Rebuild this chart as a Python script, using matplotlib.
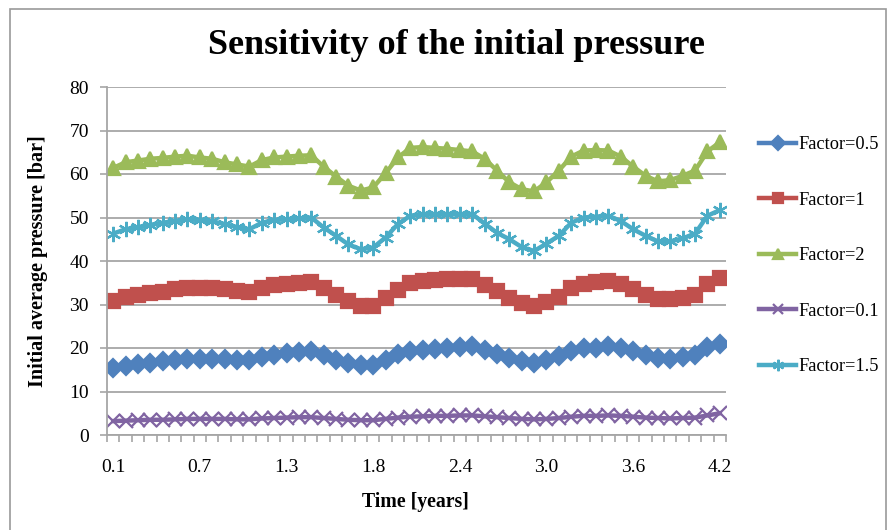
import matplotlib.pyplot as plt
from matplotlib.patches import Rectangle

# tiempo en meses (50 puntos), solo se rotula uno de cada 7
tick_pos = [0, 7, 14, 21, 28, 35, 42, 49]
tick_labels = ['0.1', '0.7', '1.3', '1.8', '2.4', '3.0', '3.6', '4.2']

# presion media inicial [bar] para cada factor
factor_05 = [15.4, 15.8, 16.4, 16.6, 16.9, 17.2, 17.4, 17.5, 17.5, 17.5,
             17.3, 17.2, 17.9, 18.5, 18.8, 19.1, 19.2, 18.3, 17.3, 16.6,
             16.0, 16.0, 17.2, 18.7, 19.3, 19.5, 19.8, 20.1, 20.2, 20.4,
             19.6, 18.7, 17.8, 17.0, 16.5, 17.2, 18.1, 19.3, 20.1, 20.1,
             20.4, 20.1, 19.3, 18.3, 17.8, 17.5, 17.9, 18.5, 20.2, 21.0]
factor_1 = [30.8, 31.7, 32.2, 32.6, 32.9, 33.5, 33.8, 33.8, 33.8, 33.5,
            33.2, 32.9, 33.9, 34.4, 34.7, 35.0, 35.1, 33.8, 32.2, 30.8,
            29.7, 29.7, 31.4, 33.3, 35.0, 35.3, 35.7, 35.8, 35.9, 35.9,
            34.5, 33.2, 31.6, 30.3, 29.7, 30.6, 31.8, 33.8, 34.8, 35.2,
            35.3, 34.8, 33.5, 32.1, 31.3, 31.2, 31.6, 32.1, 34.8, 36.1]
factor_2 = [61.4, 62.7, 63.1, 63.5, 63.7, 64.0, 64.2, 63.8, 63.5, 62.7,
            62.2, 61.7, 63.2, 63.8, 64.0, 64.2, 64.3, 61.7, 59.4, 57.3,
            56.2, 56.9, 60.2, 63.8, 66.0, 66.2, 66.0, 65.8, 65.5, 65.2,
            63.5, 60.8, 58.1, 56.5, 56.0, 58.1, 60.8, 64.0, 65.4, 65.5,
            65.4, 64.0, 61.7, 59.6, 58.3, 58.6, 59.6, 60.8, 65.2, 67.3]
factor_01 = [3.2, 3.3, 3.4, 3.5, 3.5, 3.6, 3.7, 3.7, 3.7, 3.7,
             3.6, 3.6, 3.8, 3.9, 4.0, 4.1, 4.1, 3.9, 3.7, 3.5,
             3.4, 3.4, 3.7, 4.0, 4.2, 4.3, 4.4, 4.4, 4.5, 4.5,
             4.3, 4.1, 3.9, 3.7, 3.6, 3.7, 3.9, 4.2, 4.4, 4.4,
             4.5, 4.4, 4.2, 4.0, 3.9, 3.8, 3.9, 4.0, 4.5, 5.0]
factor_15 = [46.3, 47.3, 47.8, 48.3, 48.8, 49.2, 49.6, 49.4, 49.1, 48.5,
             47.8, 47.3, 48.8, 49.4, 49.6, 49.8, 50.0, 47.7, 45.8, 43.8,
             42.7, 43.1, 45.4, 48.5, 50.4, 50.8, 50.8, 50.8, 50.8, 50.8,
             48.6, 46.5, 45.0, 43.2, 42.3, 44.0, 45.8, 48.8, 50.0, 50.2,
             50.4, 49.2, 47.3, 45.8, 44.5, 44.5, 45.2, 46.3, 50.4, 51.7]

series = [
    ('Factor=0.5', factor_05, '#4F81BD', 'D', 9.5),
    ('Factor=1', factor_1, '#C0504D', 's', 9.5),
    ('Factor=2', factor_2, '#9BBB59', '^', 10.5),
    ('Factor=0.1', factor_01, '#8064A2', 'x', 9.5),
    ('Factor=1.5', factor_15, '#4BACC6', (6, 2, 0), 11),
]

plt.rcParams['font.family'] = 'Liberation Serif'

W, H = 888, 530
fig = plt.figure(figsize=(W / 100, H / 100), dpi=100)
ax = fig.add_axes([107 / W, 1 - 435 / H, 619 / W, 348 / H])

# marco gris del grafico
fig.patches.append(Rectangle((10 / W, -0.05), 876 / W, 1 - 9 / H + 0.05,
                             transform=fig.transFigure, fill=False,
                             edgecolor='#9A9A9A', linewidth=1.2))

x = list(range(len(factor_05)))
for name, vals, col, mk, ms in series:
    ax.plot(x, vals, color=col, linewidth=3.2, marker=mk, markersize=ms,
            markeredgewidth=1.6, markerfacecolor=col, markeredgecolor=col,
            label=name)

ax.set_xlim(-0.5, len(x) - 0.5)
ax.set_ylim(0, 80)
ax.set_yticks(range(0, 81, 10))
ax.grid(axis='y', color='#A6A6A6', linewidth=1.3)
ax.set_axisbelow(True)

ax.set_xticks(tick_pos)
ax.set_xticklabels(tick_labels)
ax.set_xticks([i - 0.5 for i in range(len(x) + 1)], minor=True)
ax.tick_params(axis='x', which='major', length=0, pad=17, labelsize=14)
ax.tick_params(axis='x', which='minor', length=5, color='#A6A6A6', width=1.2)
ax.tick_params(axis='y', length=5, color='#A6A6A6', width=1.2, labelsize=14, pad=8)

for s in ['top', 'right']:
    ax.spines[s].set_visible(False)
ax.spines['left'].set_color('#A6A6A6')
ax.spines['left'].set_linewidth(1.3)
ax.spines['bottom'].set_color('#A6A6A6')
ax.spines['bottom'].set_linewidth(1.3)

fig.text(456 / W, 1 - 46 / H, 'Sensitivity of the initial pressure',
         ha='center', va='center', fontsize=26, fontweight='bold')
fig.text(415 / W, 1 - 502 / H, 'Time [years]', ha='center', va='center',
         fontsize=14.2, fontweight='bold')
fig.text(38 / W, 1 - 261 / H, 'Initial average pressure [bar]', ha='center',
         va='center', rotation=90, fontsize=14.5, fontweight='bold')

ax.legend(loc='upper left', bbox_to_anchor=(750 / W, 1 - 127 / H),
          bbox_transform=fig.transFigure, frameon=False, fontsize=13.2,
          handlelength=2.0, handletextpad=0.16, labelspacing=2.1,
          borderpad=0, markerscale=0.75)

fig.savefig('out.png', dpi=100)
